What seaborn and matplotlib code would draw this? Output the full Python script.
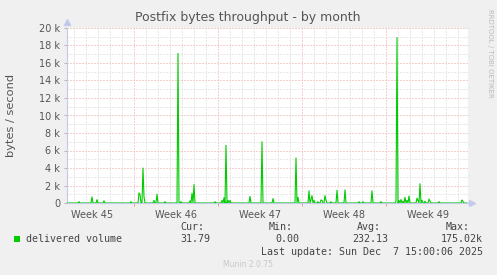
import numpy as np
import pandas as pd
import matplotlib
matplotlib.use("Agg")
import matplotlib.pyplot as plt
from matplotlib.patches import Rectangle
from matplotlib.ticker import FuncFormatter
import seaborn as sns

# ---- data (days counted from Monday of week 45; values in kbytes/s) ----
peak_days = [2.44, 3.53, 3.89, 4.50, 6.78, 7.39, 7.50, 7.73, 7.86, 8.67, 8.89, 9.58,
             10.63, 10.92, 11.67, 11.86, 12.03, 13.78, 14.36, 14.47, 14.69, 14.86, 15.00,
             16.67, 17.67, 18.58, 20.53, 20.69, 21.61, 21.73, 21.86, 22.00, 22.36, 22.56,
             22.69, 22.89, 23.03, 23.44, 23.94, 24.61, 25.78, 26.06, 26.86, 27.61, 28.81,
             28.94, 29.11, 29.28, 29.42, 29.61, 29.78, 29.94, 30.58, 30.69, 30.86, 30.97,
             31.28, 31.61, 31.69, 32.42, 34.33, 34.42]
peak_kbytes = [0.15, 0.70, 0.38, 0.25, 0.15, 1.15, 1.00, 4.00, 0.70, 0.30, 1.00, 0.15,
               17.1, 0.15, 0.25, 1.10, 2.10, 0.15, 0.30, 0.60, 6.60, 0.30, 0.30,
               0.75, 7.00, 0.50, 5.15, 0.65, 1.40, 0.40, 0.85, 0.30, 0.15, 0.35,
               0.30, 0.85, 0.30, 0.15, 1.45, 1.50, 0.15, 0.15, 1.40, 0.15, 0.20,
               18.9, 0.30, 0.40, 0.20, 0.65, 0.30, 0.80, 0.55, 0.30, 2.20, 0.30,
               0.20, 0.45, 0.20, 0.15, 0.35, 0.15]
week_labels = ["Week 45", "Week 46", "Week 47", "Week 48", "Week 49"]
week_centers = [3.5, 10.5, 17.5, 24.5, 31.5]
week_bounds = [7, 14, 21, 28]
series_name = "delivered volume"
stat_headers = ["Cur:", "Min:", "Avg:", "Max:"]
stat_values = ["31.79", "0.00", "232.13", "175.02k"]
title = "Postfix bytes throughput - by month"
ylabel = "bytes / second"
last_update = "Last update: Sun Dec  7 15:00:06 2025"

T0, T1 = 1.4167, 34.8333
STEP = 1 / 12  # 2-hour samples

times = np.arange(T0, T1, STEP)
vals = np.zeros(len(times))
for d, v in zip(peak_days, peak_kbytes):
    i = int(round((d - T0) / STEP))
    vals[i] = max(vals[i], v * 1000)
df = pd.DataFrame({"t": times, "v": vals})

W, H = 497, 275
fig = plt.figure(figsize=(W / 100, H / 100), dpi=100, facecolor="#f0f0f0")
L, R, TOP, BOT = 67, 468, 28, 203
ax = fig.add_axes([L / W, 1 - BOT / H, (R - L) / W, (BOT - TOP) / H])
ax.set_facecolor("white")
ax.set_xlim(T0, T1)
ax.set_ylim(0, 20000)

dots = (0, (1, 2))
minor_c = "#d2d2d2"
major_c = "#eea0a0"
for d in range(2, 35):
    if d % 7 != 0:
        ax.axvline(d, color=minor_c, lw=0.72, ls=dots, zorder=1)
for d in week_bounds:
    ax.axvline(d, color=major_c, lw=0.72, ls=dots, zorder=1)
for y in range(1000, 20001, 1000):
    ax.axhline(y, color=major_c if y % 2000 == 0 else minor_c, lw=0.72, ls=dots, zorder=1)

sns.lineplot(data=df, x="t", y="v", color="#00cc00", linewidth=0.8, ax=ax, zorder=3)

for s in ["top", "right"]:
    ax.spines[s].set_visible(False)
axis_c = "#c4c8ec"
for s in ["left", "bottom"]:
    ax.spines[s].set_color(axis_c)
    ax.spines[s].set_linewidth(0.8)
ax.plot([T0], [20700], marker="^", color=axis_c, markersize=4, clip_on=False)
ax.plot([T1 + 0.3], [0], marker=">", color=axis_c, markersize=4, clip_on=False)

ax.set_yticks(range(0, 20001, 2000))
ax.yaxis.set_major_formatter(FuncFormatter(lambda v, p: "0" if v == 0 else f"{v/1000:.0f} k"))
ax.tick_params(axis="y", length=2, width=0.6, color="#aaaaaa", pad=3,
               labelsize=7, labelcolor="#555555")
ax.set_xticks(week_centers)
ax.set_xticklabels(week_labels)
ax.tick_params(axis="x", which="major", length=0, pad=5, labelsize=7, labelcolor="#555555")
ax.set_xticks(week_bounds, minor=True)
ax.tick_params(axis="x", which="minor", length=2, width=0.6, color="#ee8888")
ax.set_xlabel("")
ax.set_ylabel("")

fig.text(248 / W, 1 - 18 / H, title, ha="center", va="center", fontsize=9, color="#555555")
fig.text(11 / W, 1 - 115 / H, ylabel, rotation=90, ha="center", va="center",
         fontsize=8.2, color="#555555")
fig.text(490 / W, 1 - 53 / H, "RRDTOOL / TOBI OETIKER", rotation=270, ha="center",
         va="center", fontsize=5, color="#bbbbbb")

mono = "DejaVu Sans Mono"
tc = "#444444"
fig.patches.append(Rectangle((14 / W, 1 - 242 / H), 6 / W, 6 / H, transform=fig.transFigure,
                             facecolor="#00cc00", edgecolor="none"))
fig.text(26 / W, 1 - 239.5 / H, series_name, ha="left", va="center", family=mono,
         fontsize=7.2, color=tc)
hdr_right = [204, 293, 381, 470]
val_right = [210, 299, 388, 483]
for h, x in zip(stat_headers, hdr_right):
    fig.text(x / W, 1 - 227.5 / H, h, ha="right", va="center", family=mono, fontsize=7.2, color=tc)
for v, x in zip(stat_values, val_right):
    fig.text(x / W, 1 - 239.5 / H, v, ha="right", va="center", family=mono, fontsize=7.2, color=tc)
fig.text(483 / W, 1 - 252 / H, last_update, ha="right", va="center", family=mono,
         fontsize=7.2, color=tc)
fig.text(248 / W, 1 - 264.5 / H, "Munin 2.0.75", ha="center", va="center", fontsize=5.5,
         color="#c8c8c8")

fig.savefig("out.png", dpi=100, facecolor=fig.get_facecolor())
